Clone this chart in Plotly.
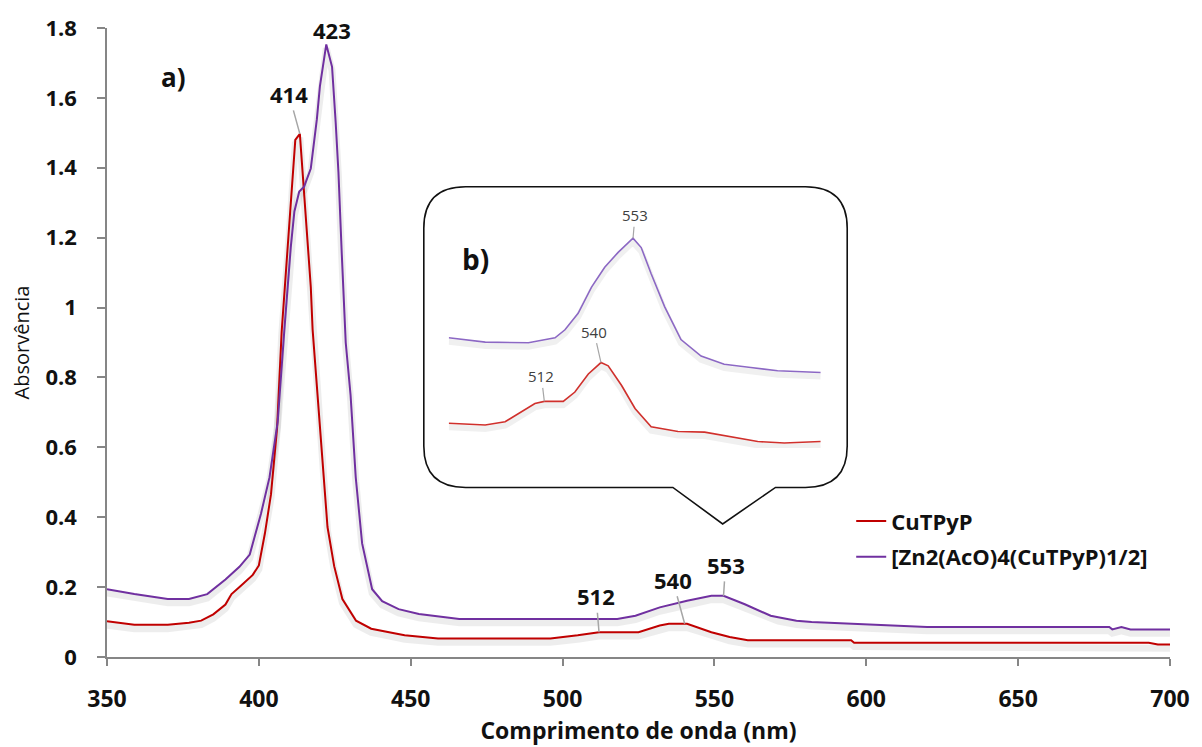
import numpy as np
import plotly.graph_objects as go

# ---------------- data ----------------
wl_cu = [350, 359, 370, 377, 381, 385, 389, 391, 394, 398, 400, 402, 404, 406, 407.5,
         410, 412, 413.5, 414.4, 415.7, 417.1, 417.7, 419.3, 420.9, 422.6, 424.8, 427.5,
         432, 437, 445, 448, 459, 496, 505, 512, 525, 532, 535, 541, 549, 555, 561,
         595, 596, 693, 696, 700]
abs_cu = [0.102, 0.092, 0.092, 0.098, 0.104, 0.122, 0.150, 0.180, 0.203, 0.235, 0.262,
          0.354, 0.466, 0.655, 0.930, 1.220, 1.480, 1.497, 1.388, 1.247, 1.059, 0.937,
          0.749, 0.561, 0.372, 0.260, 0.166, 0.104, 0.081, 0.067, 0.062, 0.053, 0.053,
          0.062, 0.071, 0.071, 0.090, 0.095, 0.095, 0.071, 0.057, 0.048, 0.048, 0.041,
          0.041, 0.036, 0.036]

wl_zn = [350, 359, 370, 377, 383, 389, 393.6, 397, 398, 400.7, 403.5, 406.2, 408.4, 409.1,
         410.5, 411.7, 413.3, 414.9, 417.1, 419.1, 420.1, 422.2, 424.1, 425.3, 426.2, 427.3,
         428.6, 430.2, 431.9, 434.0, 437.3, 440.6, 446, 452.7, 466, 518, 524, 532, 541,
         549, 553, 560, 568.5, 571, 577, 582, 596, 620, 680, 681, 684, 687, 700]
abs_zn = [0.194, 0.180, 0.166, 0.166, 0.180, 0.222, 0.258, 0.293, 0.325, 0.410, 0.514,
          0.673, 0.937, 1.013, 1.172, 1.275, 1.332, 1.346, 1.398, 1.539, 1.633, 1.753,
          1.689, 1.529, 1.388, 1.154, 0.900, 0.749, 0.514, 0.325, 0.194, 0.160, 0.137,
          0.123, 0.109, 0.109, 0.118, 0.142, 0.161, 0.175, 0.175, 0.151, 0.118, 0.114,
          0.104, 0.100, 0.095, 0.086, 0.086, 0.079, 0.086, 0.079, 0.079]

# inset (b) spectra, relative units
wl_in_zn = [478, 492.7, 510.1, 520.8, 524.8, 530.1, 535.5, 540.8, 546.2, 552.2, 555.5,
            559.5, 564.9, 571.5, 579.6, 588.9, 599.6, 610.4, 627.7]
ab_in_zn = [0.508, 0.488, 0.485, 0.508, 0.545, 0.621, 0.742, 0.833, 0.902, 0.967, 0.924,
            0.803, 0.652, 0.500, 0.424, 0.386, 0.371, 0.356, 0.348]
wl_in_cu = [478, 492.7, 500.7, 507.4, 512.7, 516.5, 524.1, 528.8, 534.2, 539.3, 542.2,
            547.6, 553.0, 559.5, 570.3, 581.0, 591.7, 602.4, 613.1, 627.7]
ab_in_cu = [0.114, 0.106, 0.121, 0.167, 0.205, 0.215, 0.215, 0.258, 0.341, 0.394, 0.379,
            0.288, 0.182, 0.098, 0.076, 0.073, 0.053, 0.030, 0.023, 0.030]

x_ticks = [350, 400, 450, 500, 550, 600, 650, 700]
y_ticks = [0, 0.2, 0.4, 0.6, 0.8, 1.0, 1.2, 1.4, 1.6, 1.8]
y_tick_text = ["0", "0.2", "0.4", "0.6", "0.8", "1", "1.2", "1.4", "1.6", "1.8"]

name_cu = "CuTPyP"
name_zn = "[Zn2(AcO)4(CuTPyP)1/2]"

# peak labels: (text, series, wavelength, x-offset px, y-offset px)
main_labels = [("414", "cu", 413.5, -11, -40), ("423", "zn", 422.2, 6, -14),
               ("512", "cu", 512, -3, -36), ("540", "cu", 540.2, -12, -44),
               ("553", "zn", 553, 2, -31)]
inset_labels = [("553", "zn", 552.2, 2, -23), ("540", "cu", 539.3, -7, -31),
                ("512", "cu", 516.5, -3, -25)]

RED = "#C00000"
PURPLE = "#7030A0"
RED_IN = "#D0302C"
PURPLE_IN = "#8C68C4"
FONT = "Open Sans"

# ---------------- layout geometry ----------------
W, H = 1202, 747
L, R, T, B = 107, 1174, 24, 662


def px2paper(px, py):
    return (px - L) / (R - L), (B - py) / (B - T)


fig = go.Figure()

series = {"cu": (wl_cu, abs_cu), "zn": (wl_zn, abs_zn)}
inset = {"cu": (wl_in_cu, ab_in_cu), "zn": (wl_in_zn, ab_in_zn)}

# soft shadows
for xs, ys in [(wl_cu, abs_cu), (wl_zn, abs_zn)]:
    fig.add_trace(go.Scatter(x=xs, y=np.array(ys) - 0.011, mode="lines",
                             line=dict(color="rgba(0,0,0,0.07)", width=7),
                             showlegend=False, hoverinfo="skip"))
for xs, ys in [(wl_in_cu, ab_in_cu), (wl_in_zn, ab_in_zn)]:
    fig.add_trace(go.Scatter(x=xs, y=np.array(ys) - 0.018, mode="lines",
                             line=dict(color="rgba(0,0,0,0.06)", width=6),
                             showlegend=False, hoverinfo="skip",
                             xaxis="x2", yaxis="y2"))

fig.add_trace(go.Scatter(x=wl_cu, y=abs_cu, mode="lines", name=name_cu,
                         line=dict(color=RED, width=2), legendgroup="a"))
fig.add_trace(go.Scatter(x=wl_zn, y=abs_zn, mode="lines", name=name_zn,
                         line=dict(color=PURPLE, width=2), legendgroup="b"))

fig.add_trace(go.Scatter(x=wl_in_zn, y=ab_in_zn, mode="lines", showlegend=False,
                         line=dict(color=PURPLE_IN, width=1.6), xaxis="x2", yaxis="y2"))
fig.add_trace(go.Scatter(x=wl_in_cu, y=ab_in_cu, mode="lines", showlegend=False,
                         line=dict(color=RED_IN, width=1.6), xaxis="x2", yaxis="y2"))

annotations = []
for txt, s, wl, ax, ay in main_labels:
    xs, ys = series[s]
    yv = float(np.interp(wl, xs, ys))
    annotations.append(dict(x=wl, y=yv, xref="x", yref="y", text=txt, showarrow=True,
                            ax=ax, ay=ay, arrowhead=0, arrowwidth=1.5, standoff=0,
                            arrowcolor="#A6A6A6" if txt != "423" else "rgba(0,0,0,0)",
                            font=dict(family=FONT, size=22, color="#111111", weight="bold")))
for txt, s, wl, ax, ay in inset_labels:
    xs, ys = inset[s]
    yv = float(np.interp(wl, xs, ys))
    annotations.append(dict(x=wl, y=yv, xref="x2", yref="y2", text=txt, showarrow=True,
                            ax=ax, ay=ay, arrowhead=0, arrowwidth=1.2, standoff=0,
                            arrowcolor="#A6A6A6",
                            font=dict(family=FONT, size=15, color="#404040")))

ax_, ay_ = px2paper(159, 53)
annotations.append(dict(x=ax_, y=ay_, xref="paper", yref="paper", text="a)",
                        showarrow=False, font=dict(family=FONT, size=26, color="#111111",
                                                   weight="bold")))
bx_, by_ = px2paper(477, 258)
annotations.append(dict(x=bx_, y=by_, xref="paper", yref="paper", text="b)",
                        showarrow=False, font=dict(family=FONT, size=28, color="#111111",
                                                   weight="bold")))

# callout box
bl, bt, br, bb, rad = 425, 185, 850, 490, 42
pl, pt, pr = 675, 725, 778
tip_y = 527
pts = [("M", bl + rad, bt), ("L", br - rad, bt), ("Q", br, bt, br, bt + rad),
       ("L", br, bb - rad), ("Q", br, bb, br - rad, bb), ("L", pr, bb), ("L", pt, tip_y),
       ("L", pl, bb), ("L", bl + rad, bb), ("Q", bl, bb, bl, bb - rad),
       ("L", bl, bt + rad), ("Q", bl, bt, bl + rad, bt)]
path = ""
for p in pts:
    cmd = p[0]
    coords = p[1:]
    parts = []
    for i in range(0, len(coords), 2):
        xx, yy = px2paper(coords[i], coords[i + 1])
        parts.append(f"{xx:.5f},{yy:.5f}")
    path += cmd + " ".join(parts) + " "
path += "Z"

shapes = [dict(type="path", path=path, xref="paper", yref="paper",
               line=dict(color="#111111", width=1.6), fillcolor="rgba(0,0,0,0)")]

ix0, iy0 = px2paper(450, 450)
ix1, iy1 = px2paper(824, 230)

lx, ly = px2paper(854, 503)

fig.update_layout(
    width=W, height=H,
    margin=dict(l=L, r=W - R, t=T, b=H - B),
    plot_bgcolor="white", paper_bgcolor="white",
    font=dict(family=FONT, color="#111111"),
    xaxis=dict(range=[350, 700], tickvals=x_ticks, ticks="outside", ticklen=7,
               tickwidth=1.5, tickcolor="#868686", showline=True, linecolor="#868686",
               linewidth=1.5, showgrid=False, zeroline=False, ticklabelstandoff=14,
               tickfont=dict(family=FONT, size=23, color="#111111", weight="bold"),
               title=dict(text="Comprimento de onda (nm)", standoff=5,
                          font=dict(family=FONT, size=23, color="#111111", weight="bold"))),
    yaxis=dict(range=[0, 1.8], tickvals=y_ticks, ticktext=y_tick_text, ticks="outside",
               ticklen=8, tickwidth=1.5, tickcolor="#868686", showline=True,
               linecolor="#868686", linewidth=1.5, showgrid=False, zeroline=False,
               ticklabelstandoff=16,
               tickfont=dict(family=FONT, size=22, color="#111111", weight="bold"),
               title=dict(text="Absorvência", standoff=10,
                          font=dict(family=FONT, size=20, color="#111111"))),
    xaxis2=dict(domain=[ix0, ix1], range=[478, 628], anchor="y2", visible=False),
    yaxis2=dict(domain=[min(iy0, iy1), max(iy0, iy1)],
                range=[0, 1], anchor="x2", visible=False),
    legend=dict(x=lx, y=ly, xanchor="left", yanchor="top", bgcolor="rgba(0,0,0,0)",
                font=dict(family=FONT, size=22, color="#111111", weight="bold"),
                tracegroupgap=4, traceorder="grouped"),
    annotations=annotations,
    shapes=shapes,
    showlegend=True,
)

fig.write_html("out.html", config={"displayModeBar": False},
               post_script="document.body.style.margin='0';document.body.style.padding='0';")
